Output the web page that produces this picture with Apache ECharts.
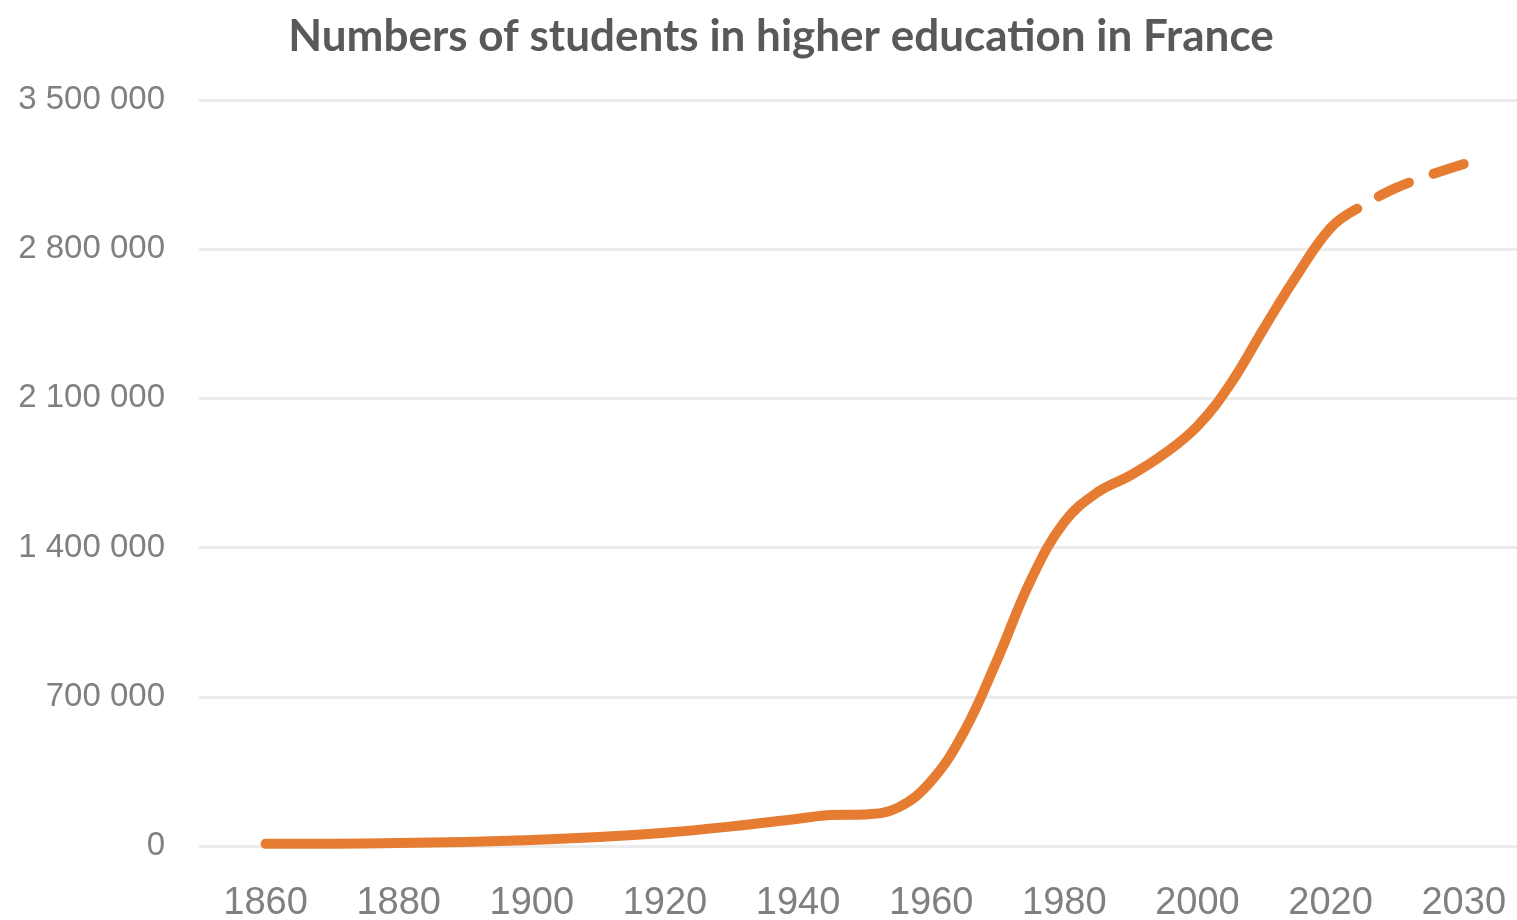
<!DOCTYPE html>
<html>
<head>
<meta charset="utf-8">
<script src="https://cdn.jsdelivr.net/npm/echarts@6/dist/echarts.min.js"></script>
<style>
  html, body { margin: 0; padding: 0; background: #ffffff; }
  #chart { width: 1517px; height: 920px; }
</style>
</head>
<body>
<div id="chart"></div>
<script>
// Tick labels of the horizontal axis (equally spaced in the original chart)
const xTickLabels = [1860, 1880, 1900, 1920, 1940, 1960, 1980, 2000, 2020, 2030];

// Observed numbers of students (solid line)
const actualYears = [1860, 1870, 1880, 1890, 1900, 1910, 1920, 1930, 1940, 1945, 1950, 1955, 1960, 1965, 1970, 1975, 1980, 1985, 1990, 1995, 2000, 2005, 2010, 2015, 2020, 2022];
const actualStudents = [10000, 11000, 14000, 19000, 28000, 42000, 62000, 92000, 128000, 145000, 148000, 180000, 305000, 540000, 880000, 1250000, 1520000, 1660000, 1740000, 1840000, 1970000, 2170000, 2430000, 2680000, 2900000, 2990000];

// Projection (dashed line)
const projectionYears = [2022, 2025, 2030];
const projectionStudents = [2990000, 3090000, 3200000];

// Value-axis ticks
const yMin = 0, yMax = 3500000, yStep = 700000;

// Position of a year on the (equally spaced) tick scale: index of tick label, fractional in between
function yearToPos(year) {
  for (let i = 0; i < xTickLabels.length - 1; i++) {
    const a = xTickLabels[i], b = xTickLabels[i + 1];
    if (year >= a && year <= b) return i + (year - a) / (b - a);
  }
  return xTickLabels.length - 1;
}
function pairs(years, vals) { return years.map((y, i) => [yearToPos(y), vals[i]]); }

function fmtThousands(v) { return String(v).replace(/\B(?=(\d{3})+(?!\d))/g, ' '); }

const chart = echarts.init(document.getElementById('chart'), null, { renderer: 'canvas' });
const orange = '#E57C31';
chart.setOption({
  animation: false,
  backgroundColor: '#ffffff',
  title: {
    text: 'Numbers of students in higher education in France',
    left: 776,
    textAlign: 'center',
    top: 10,
    textStyle: { fontFamily: 'Lato', fontWeight: 'bold', fontSize: 44, color: '#595959' }
  },
  grid: { left: 199, right: 0, top: 100, bottom: 74, containLabel: false, outerBoundsMode: 'none' },
  xAxis: {
    type: 'value',
    min: -0.5,
    max: xTickLabels.length - 0.6,
    axisLine: { show: false },
    axisTick: { show: false },
    splitLine: { show: false },
    axisLabel: {
      customValues: xTickLabels.map((_, i) => i),
      formatter: v => String(xTickLabels[Math.round(v)]),
      fontFamily: 'Liberation Sans',
      fontSize: 38,
      color: '#808080',
      margin: 39
    }
  },
  yAxis: {
    type: 'value',
    min: yMin, max: yMax, interval: yStep,
    axisLine: { show: false },
    axisTick: { show: false },
    splitLine: { show: true, lineStyle: { color: '#ececec', width: 3 } },
    axisLabel: {
      formatter: v => fmtThousands(v),
      fontFamily: 'Liberation Sans',
      fontSize: 33,
      color: '#808080',
      margin: 34
    }
  },
  series: [
    {
      type: 'line',
      data: pairs(actualYears, actualStudents),
      smooth: 0.4,
      showSymbol: false,
      lineStyle: { color: orange, width: 10, cap: 'round', join: 'round' },
      z: 3
    },
    {
      type: 'line',
      data: pairs(projectionYears, projectionStudents),
      smooth: 0.4,
      showSymbol: false,
      lineStyle: { color: orange, width: 10, cap: 'round', type: [33, 26], dashOffset: 34 },
      z: 3
    }
  ]
});
</script>
</body>
</html>
